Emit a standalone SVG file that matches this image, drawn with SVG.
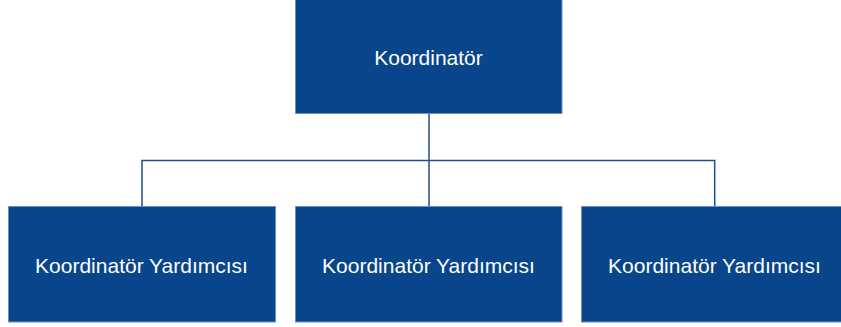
<svg xmlns="http://www.w3.org/2000/svg" width="841" height="327" viewBox="0 0 841 327">
<style>
.box{fill:#08458A;stroke:#6F8FBC;stroke-width:1}
.lbl{fill:#FFFFFF;font-family:"Liberation Sans",Arial,sans-serif;font-size:21px;text-anchor:middle}
.con{fill:none;stroke:#1E4F8E;stroke-width:1.5}
</style>
<rect width="841" height="327" fill="#FFFFFF"/>
<g id="connectors">
<path class="con" d="M429 114 V206.5"/>
<path class="con" d="M142 206.5 V160.5 H714.7 V206.5"/>
</g>
<g id="n0"><rect class="box" x="295.5" y="-1" width="266.5" height="114.5"/><text class="lbl" x="428.5" y="65">Koordinatör</text></g>
<g id="n1"><rect class="box" x="8.5" y="206.5" width="267" height="115.5"/><text class="lbl" x="141.5" y="273">Koordinatör Yardımcısı</text></g>
<g id="n2"><rect class="box" x="295.5" y="206.5" width="266.5" height="115.5"/><text class="lbl" x="428.5" y="273">Koordinatör Yardımcısı</text></g>
<g id="n3"><rect class="box" x="581.5" y="206.5" width="261" height="115.5"/><text class="lbl" x="714.5" y="273">Koordinatör Yardımcısı</text></g>
</svg>
